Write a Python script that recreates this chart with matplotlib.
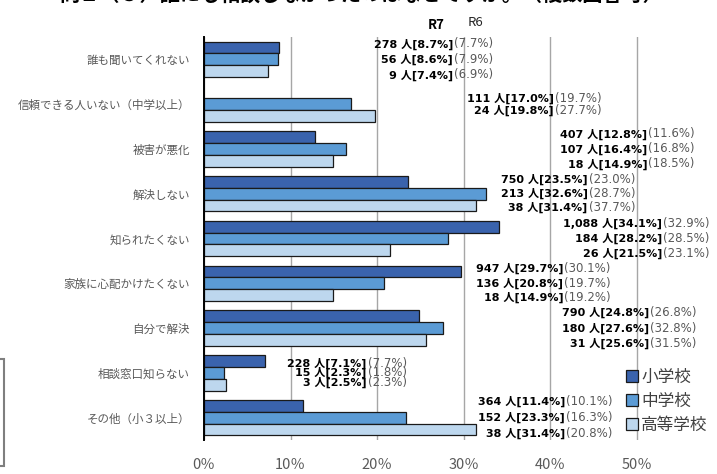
import matplotlib
matplotlib.use("Agg")
import matplotlib.pyplot as plt
from matplotlib.patches import Rectangle

plt.rcParams['font.family'] = ['Noto Sans CJK JP', 'DejaVu Sans']

categories = ["誰も聞いてくれない", "信頼できる人いない（中学以上）", "被害が悪化", "解決しない",
              "知られたくない", "家族に心配かけたくない", "自分で解決", "相談窓口知らない", "その他（小３以上）"]
schools = ["小学校", "中学校", "高等学校"]

# R7 share (%) per school; None = item not asked
pct_elem = [8.7, None, 12.8, 23.5, 34.1, 29.7, 24.8, 7.1, 11.4]
pct_junior = [8.6, 17.0, 16.4, 32.6, 28.2, 20.8, 27.6, 2.3, 23.3]
pct_high = [7.4, 19.8, 14.9, 31.4, 21.5, 14.9, 25.6, 2.5, 31.4]

# R7 head counts
cnt_elem = [278, None, 407, 750, 1088, 947, 790, 228, 364]
cnt_junior = [56, 111, 107, 213, 184, 136, 180, 15, 152]
cnt_high = [9, 24, 18, 38, 26, 18, 31, 3, 38]

# previous year (R6) share (%)
r6_elem = [7.7, None, 11.6, 23.0, 32.9, 30.1, 26.8, 7.7, 10.1]
r6_junior = [7.9, 19.7, 16.8, 28.7, 28.5, 19.7, 32.8, 1.8, 16.3]
r6_high = [6.9, 27.7, 18.5, 37.7, 23.1, 19.2, 31.5, 2.3, 20.8]

xticks = [0, 10, 20, 30, 40, 50]

colors = ["#3a63ad", "#5b9bd5", "#bdd7ee"]
# where each label block sits (x of the "]" in %, line pitch in px)
label_x = [28.75, 40.4, 51.2, 44.3, 52.9, 41.5, 51.4, 18.8, 41.7]
line_gap = [15.5, 12, 15, 14, 15, 14.5, 15.5, 9.5, 16]
# wide latin digits first, CJK for 人
label_font = ['DejaVu Sans', 'Noto Sans CJK JP']

W, H = 717, 474
fig = plt.figure(figsize=(W / 100, H / 100), dpi=100)
ax_l, ax_r, ax_t, ax_b = 204, 717, 37, 440
ax = fig.add_axes([ax_l / W, 1 - ax_b / H, (ax_r - ax_l) / W, (ax_b - ax_t) / H])
px_per_pct = 8.66
group_px = (ax_b - ax_t) / len(categories)

bar_h = 0.264
pcts = [pct_elem, pct_junior, pct_high]
cnts = [cnt_elem, cnt_junior, cnt_high]
r6s = [r6_elem, r6_junior, r6_high]

handles = []
for j, (vals, col) in enumerate(zip(pcts, colors)):
    ys = [i + (j - 1) * bar_h for i, v in enumerate(vals) if v is not None]
    ws = [v for v in vals if v is not None]
    b = ax.barh(ys, ws, height=bar_h, color=col, edgecolor="#1a1a1a", linewidth=0.9,
                label=schools[j], zorder=3)
    handles.append(b)

ax.set_xlim(0, (ax_r - ax_l) / px_per_pct)
ax.set_ylim(len(categories) - 0.5, -0.5)
ax.set_xticks(xticks)
ax.set_xticklabels([f"{t}％" for t in xticks], fontsize=10.5, color="#595959")
ax.set_yticks(range(len(categories)))
ax.set_yticklabels(categories, fontsize=8.3, color="#595959")
ax.tick_params(axis="x", length=0, pad=13)
ax.tick_params(axis="y", length=0, pad=10)
ax.xaxis.grid(True, color="#a6a6a6", linewidth=1.0, zorder=0)
ax.set_axisbelow(True)
for s in ["top", "right", "bottom"]:
    ax.spines[s].set_visible(False)
ax.spines["left"].set_linewidth(1.4)
ax.spines["left"].set_color("#000000")
ax.spines["left"].set_zorder(4)

# value labels: bold R7 part, grey R6 part
for i in range(len(categories)):
    rows = [(cnts[j][i], pcts[j][i], r6s[j][i]) for j in range(3) if pcts[j][i] is not None]
    n = len(rows)
    for k, (c, p, r6) in enumerate(rows):
        y = i + (k - (n - 1) / 2) * line_gap[i] / group_px
        ax.text(label_x[i], y, f"{c:,} 人[{p:.1f}%]", ha="right", va="center",
                fontsize=8, fontweight="bold", color="#000000", family=label_font, zorder=5)
        ax.text(label_x[i] + 0.1, y, f"({r6:.1f}%)", ha="left", va="center",
                fontsize=8.5, color="#595959", family=label_font, zorder=5)

fig.text(436 / W, 1 - 25 / H, "R7", ha="center", va="center", fontsize=9.5, fontweight="bold")
fig.text(476 / W, 1 - 22 / H, "R6", ha="center", va="center", fontsize=9.5, color="#262626")

fig.text(361 / W, 1 + 5 / H, "問２（３）誰にも相談しなかったのはなぜですか。（複数回答可）",
         ha="center", va="center", fontsize=14.5, fontweight="bold")

ax.legend(handles=handles, loc="upper left", bbox_to_anchor=(626 / W, 1 - 369 / H),
          bbox_transform=fig.transFigure, frameon=False, fontsize=12, labelcolor="#404040",
          handlelength=0.7, handleheight=0.7, handletextpad=0.2, labelspacing=0.42,
          borderpad=0, borderaxespad=0)

fig.patches.append(Rectangle((-20 / W, 1 - 466 / H), 24 / W, 107 / H, transform=fig.transFigure,
                             fill=False, edgecolor="#7f7f7f", linewidth=1.5))

fig.savefig("out.png", dpi=100)
